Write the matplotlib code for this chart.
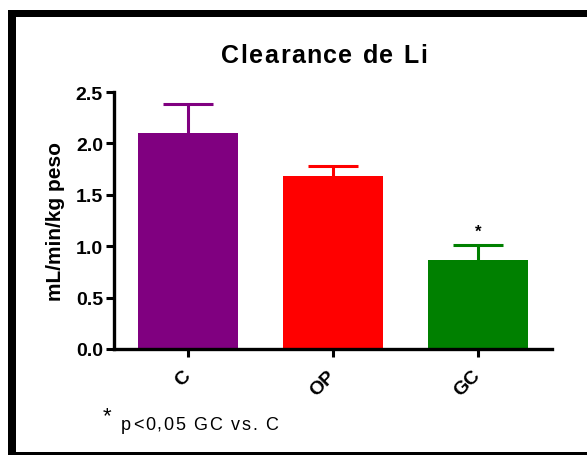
import matplotlib
matplotlib.use("Agg")
import matplotlib.pyplot as plt
from matplotlib.patches import Rectangle
from matplotlib.ticker import FormatStrFormatter

categories = ["C", "OP", "GC"]
means = [2.10, 1.68, 0.87]
errors = [0.28, 0.10, 0.14]
colors = ["#800080", "#FF0000", "#008000"]
sig_marks = ["", "", "*"]
yticks = [0.0, 0.5, 1.0, 1.5, 2.0, 2.5]

plt.rcParams['font.family'] = ['Liberation Sans', 'DejaVu Sans']

W, H = 587, 456
fig = plt.figure(figsize=(W/100, H/100), dpi=100)
ax = fig.add_axes([114/W, 1-350/H, (552-114)/W, (350-93)/H])

x = list(range(len(categories)))
ax.bar(x, means, width=0.69, color=colors, edgecolor='none', zorder=2)
tops = [m + e for m, e in zip(means, errors)]
ax.vlines(x, means, tops, colors=colors, linewidth=2.2, zorder=1)
ax.hlines(tops, [xi - 0.172 for xi in x], [xi + 0.172 for xi in x],
          colors=colors, linewidth=2.2, zorder=1)
for xi, t, s in zip(x, tops, sig_marks):
    if s:
        ax.text(xi, t + 0.06, s, ha='center', va='bottom', fontsize=12,
                fontweight='bold')

ax.set_xlim(-0.51, 2.51)
ax.set_ylim(0, 2.5)
ax.set_yticks(yticks)
ax.yaxis.set_major_formatter(FormatStrFormatter('%.1f'))
ax.set_xticks(x)
ax.set_xticklabels(categories, rotation=45, ha='right', va='center',
                   rotation_mode='anchor', fontsize=14, fontweight='bold')
for lbl in ax.get_yticklabels():
    lbl.set_fontweight('bold')
    lbl.set_fontsize(14)
ax.tick_params(axis='both', width=2.2, length=6, direction='out')
ax.tick_params(axis='x', pad=11)
ax.tick_params(axis='y', pad=2)
for sp in ['top', 'right']:
    ax.spines[sp].set_visible(False)
for sp in ['left', 'bottom']:
    ax.spines[sp].set_linewidth(2.4)

ax.set_ylabel("mL/min/kg peso", fontsize=15, fontweight='bold', labelpad=8)

renderer = fig.canvas.get_renderer()


def char_width(c, **kw):
    t1 = fig.text(0, 0, "H" + c + "H", **kw)
    t2 = fig.text(0, 0, "HH", **kw)
    w = t1.get_window_extent(renderer).width - t2.get_window_extent(renderer).width
    t1.remove()
    t2.remove()
    return w


def spaced_text(s, x_px, y_px, spacing, align='left', **kw):
    widths = [char_width(c, **kw) for c in s]
    total = sum(widths) + spacing * (len(s) - 1)
    xpos = x_px - total / 2 if align == 'center' else x_px
    for c, w in zip(s, widths):
        if c != ' ':
            fig.text(xpos / W, 1 - y_px / H, c, ha='left', va='baseline', **kw)
        xpos += w + spacing


spaced_text("Clearance de Li", 324, 63, 1.5, align='center',
            fontsize=18, fontweight='bold')
fig.text(103/W, 1-422/H, "*", ha='left', va='baseline', fontsize=16)
spaced_text("p<0,05 GC vs. C", 121, 430, 1.7, fontsize=13)

# outer frame
fig.patches.append(Rectangle((8/W, 1-18/H), 1, 7/H, transform=fig.transFigure,
                             facecolor='black', edgecolor='none'))
fig.patches.append(Rectangle((8/W, 0), 8/W, 1-11/H, transform=fig.transFigure,
                             facecolor='black', edgecolor='none'))
fig.patches.append(Rectangle((8/W, 0), 1, 3/H, transform=fig.transFigure,
                             facecolor='black', edgecolor='none'))

fig.savefig("out.png", dpi=100)
